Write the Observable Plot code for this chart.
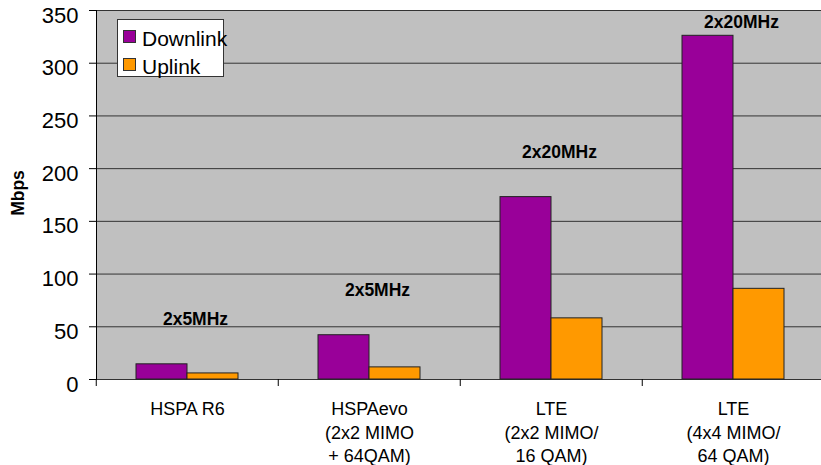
<!DOCTYPE html>
<html>
<head>
<meta charset="utf-8">
<script src="https://cdn.jsdelivr.net/npm/d3@7"></script>
<script src="https://cdn.jsdelivr.net/npm/@observablehq/plot@0.6"></script>
<style>
  html, body { margin: 0; padding: 0; background: #fff; }
  #chart { position: relative; width: 821px; height: 465px; font-family: "Liberation Sans", Arial, sans-serif; }
  #chart svg { display: block; }
  .legend { position: absolute; left: 117px; top: 19px; width: 105px; height: 56px; background: #fff; border: 1px solid #333; }
  .legend .item { position: absolute; left: 0; white-space: nowrap; font-size: 21px; line-height: 21px; color: #000; }
  .legend .sw { position: absolute; left: 5px; width: 11px; height: 11px; border: 1px solid #333; }
  .legend .lbl { position: absolute; left: 24px; }
  .ytitle { position: absolute; left: 18px; top: 193px; transform: translate(-50%, -50%) rotate(-90deg); font-weight: bold; font-size: 17.5px; white-space: nowrap; }
</style>
</head>
<body>
<div id="chart"></div>
<script>
// Peak data rates per technology generation
const categories = ["HSPA R6", "HSPAevo\n(2x2 MIMO\n+ 64QAM)", "LTE\n(2x2 MIMO/\n16 QAM)", "LTE\n(4x4 MIMO/\n64 QAM)"];
const downlink = [14.4, 42, 173, 326];
const uplink = [5.76, 11.5, 58, 86];
const spectrum = ["2x5MHz", "2x5MHz", "2x20MHz", "2x20MHz"];
const series = ["Downlink", "Uplink"];
const seriesColors = ["#990099", "#ff9900"];
const yTicks = [0, 50, 100, 150, 200, 250, 300, 350];

const rows = categories.flatMap((cat, i) => [
  {cat, series: series[0], value: downlink[i]},
  {cat, series: series[1], value: uplink[i]}
]);
const notes = categories.map((cat, i) => ({cat, text: spectrum[i], top: downlink[i]}));

const plot = Plot.plot({
  width: 821,
  height: 465,
  marginTop: 10,
  marginBottom: 86,
  marginLeft: 95,
  marginRight: 0,
  style: {fontFamily: "'Liberation Sans', Arial, sans-serif", color: "#000", background: "transparent"},
  fx: {domain: categories, range: [95, 825], padding: 0, label: null},
  x: {domain: series, paddingInner: 0, paddingOuter: 0.755, axis: null},
  y: {domain: [0, 350], label: null},
  color: {domain: series, range: seriesColors},
  marks: [
    Plot.frame({fill: "#c0c0c0", stroke: null, shapeRendering: "crispEdges"}),
    Plot.gridY(yTicks, {stroke: "#333", strokeOpacity: 1}),
    Plot.frame({anchor: "left", facetAnchor: "left", stroke: "#000"}),
    Plot.axisY(yTicks, {text: null, tickSize: 7, stroke: "#000"}),
    Plot.axisY(yTicks, {tickSize: 0, tickPadding: 18, fontSize: 22, dy: 5, label: null, tickFormat: d => String(d)}),
    Plot.axisFx({anchor: "bottom", text: null, tickSize: 7, dx: -91.25, stroke: "#000", label: null}),
    Plot.axisFx({anchor: "bottom", tickSize: 0, tickPadding: 19, fontSize: 18, lineHeight: 1.3, label: null}),
    Plot.barY(rows, {fx: "cat", x: "series", y: "value", fill: "series", stroke: "#222", strokeWidth: 1}),
    Plot.text(notes, {
      fx: "cat",
      y: d => Math.min(d.top + 37, 333),
      text: "text",
      lineAnchor: "bottom",
      dx: 8,
      fontSize: 17.5,
      fontWeight: "bold",
      fill: "#000"
    })
  ]
});

const chart = document.getElementById("chart");
chart.appendChild(plot);

// Y axis title
const title = document.createElement("div");
title.className = "ytitle";
title.textContent = "Mbps";
chart.appendChild(title);

// Series legend
const legend = document.createElement("div");
legend.className = "legend";
series.forEach((name, i) => {
  const item = document.createElement("div");
  item.className = "item";
  item.style.top = (8 + i * 28) + "px";
  const sw = document.createElement("span");
  sw.className = "sw";
  sw.style.top = "2px";
  sw.style.background = seriesColors[i];
  const lbl = document.createElement("span");
  lbl.className = "lbl";
  lbl.textContent = name;
  item.appendChild(sw);
  item.appendChild(lbl);
  legend.appendChild(item);
});
chart.appendChild(legend);
</script>
</body>
</html>
